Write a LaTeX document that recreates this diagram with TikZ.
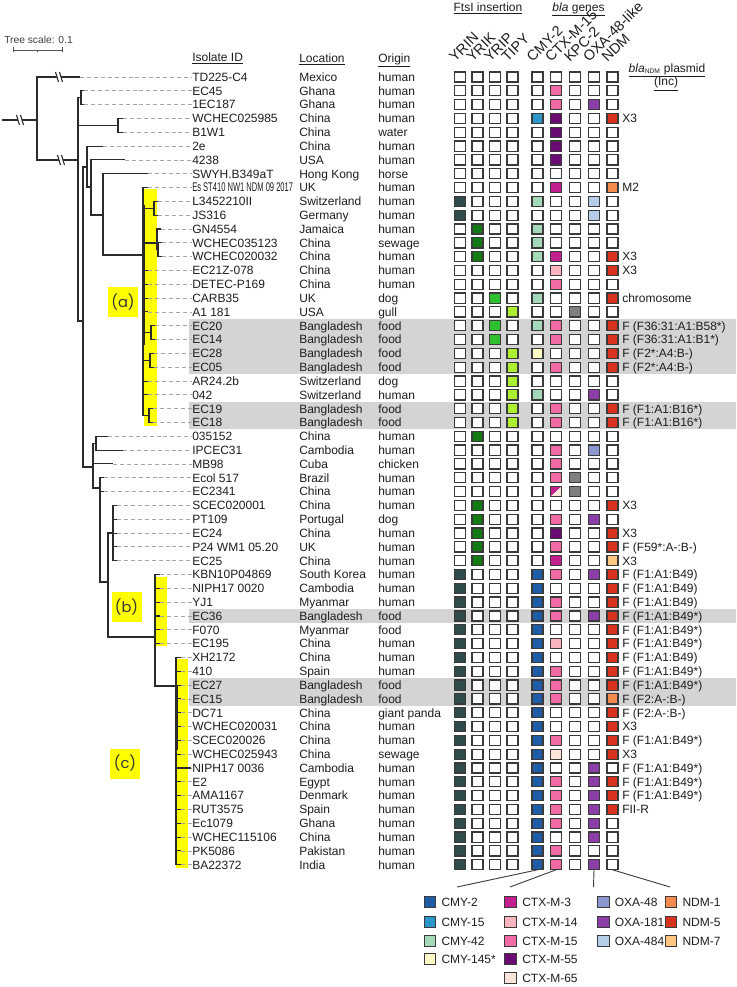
\documentclass[tikz,border=0pt]{standalone}
\usepackage{fontspec}
\setmainfont{Liberation Sans}
\newfontfamily\cladefont{Poppins}
\usepackage{graphicx}
\usetikzlibrary{calc}

\definecolor{ink}{HTML}{1E1E1E}
\definecolor{treeline}{HTML}{2B2B2B}
\definecolor{cellline}{HTML}{3A3A3A}
\definecolor{band}{HTML}{D4D4D4}
\definecolor{cladeyellow}{HTML}{FFFF00}
\definecolor{yrin}{HTML}{2F4B4B}
\definecolor{yrik}{HTML}{127A12}
\definecolor{yrip}{HTML}{2EC02E}
\definecolor{tipy}{HTML}{ADF031}
\definecolor{cmyA}{HTML}{1F5CA8}
\definecolor{cmyB}{HTML}{2C96C8}
\definecolor{cmyC}{HTML}{A5DAB9}
\definecolor{cmyD}{HTML}{FFFBC6}
\definecolor{ctxA}{HTML}{C2208E}
\definecolor{ctxB}{HTML}{F8B5BE}
\definecolor{ctxC}{HTML}{F06AA6}
\definecolor{ctxD}{HTML}{6B0A72}
\definecolor{ctxE}{HTML}{FBE4DA}
\definecolor{kpc}{HTML}{7F7F7F}
\definecolor{oxaA}{HTML}{8C97CF}
\definecolor{oxaB}{HTML}{8A3EA6}
\definecolor{oxaC}{HTML}{B5CDE8}
\definecolor{ndmA}{HTML}{F58A4E}
\definecolor{ndmB}{HTML}{D8331F}
\definecolor{ndmC}{HTML}{FCC580}

\newcommand{\rowy}[1]{77+(#1-1)*13.82}
\newcommand{\treebreak}[2]{%
  \fill[white] (#1-3.5,#2-5) -- (#1+0.5,#2-5) -- (#1+3.5,#2+5) -- (#1-0.5,#2+5) -- cycle;
  \draw[br] (#1-3.5,#2-5) -- (#1-0.5,#2+5) (#1+0.5,#2-5) -- (#1+3.5,#2+5);}

\begin{document}
\begin{tikzpicture}[x=0.75pt,y=-0.75pt,
  txt/.style={font=\fontsize{9}{10}\selectfont, text=ink, inner sep=0pt, anchor=west, text height=6.5pt, text depth=0pt},
  head/.style={txt, anchor=center},
  coltxt/.style={font=\fontsize{10.8}{12}\selectfont, text=ink, inner sep=0pt, rotate=45, anchor=base west},
  cell/.style={draw=cellline, line width=0.9pt, minimum width=8.3pt, minimum height=7.6pt, inner sep=0pt, outer sep=0pt},
  legbox/.style={draw=cellline, line width=0.9pt, minimum width=8.8pt, minimum height=8.2pt, inner sep=0pt, outer sep=0pt},
  br/.style={draw=treeline, line width=0.8pt},
  lead/.style={draw=black!35, line width=0.6pt, dash pattern=on 3pt off 2.2pt},
  cladebox/.style={fill=cladeyellow, minimum size=22.5pt, inner sep=0pt, font=\cladefont\fontsize{11}{12}\selectfont, text=ink!90}]
\useasboundingbox (0,0) rectangle (736,987);
\fill[white] (0,0) rectangle (736,987);

% tree scale
\node[font=\fontsize{7.7}{8}\selectfont, text=ink!85, inner sep=0pt, anchor=west] (tscale) at (4,40) {Tree scale: 0.1};
\draw[treeline!80, line width=0.6pt] (13,50) -- (62,50) (13,47.5) -- (13,52.5) (62,47.5) -- (62,52.5) (37.5,50) -- (37.5,52);

% highlighted Bangladesh rows
\foreach \a/\b in {19/22, 25/26, 40/40, 45/46}
  \fill[band] (189,{\rowy{\a}-6.9}) rectangle (736,{\rowy{\b}+6.9});

\fill[cladeyellow] (144,189) rectangle (157,426);
\fill[cladeyellow] (155,577) rectangle (167,646);
\fill[cladeyellow] (176,659) rectangle (188,868);
\node[cladebox] (cla) at (123,302) {(a)};
\node[cladebox] (clb) at (126.5,607) {(b)};
\node[cladebox] (clc) at (125,763.5) {(c)};

% headers
\node[txt] (hid) at (192,57) {\underline{Isolate ID}};
\node[txt] (hloc) at (299,58) {\underline{Location}};
\node[txt] (horg) at (378,58) {\underline{Origin}};
\node[head] (hfts) at (488,7) {\underline{FtsI insertion}};
\node[head] (hbla) at (578.5,7) {\underline{\textit{bla} genes}};
\node[head] (hpl) at (667,68) {\underline{\textit{bla}\textsubscript{\fontsize{5}{5}\selectfont NDM} plasmid}};
\node[head] (hinc) at (666,81.5) {\underline{(Inc)}};
\foreach \k/\x/\lab in {1/460/YRIN, 2/477.5/YRIK, 3/495/YRIP, 4/512.5/TIPY, 5/537.5/CMY-2,
    6/556/CTX-M-15, 7/575/KPC-2, 8/594/OXA-48-like, 9/612.5/NDM}
  \node[coltxt] (h\k) at (\x-5,63) {\lab};

% isolates
\foreach \r/\id/\loc/\org in {1/TD225-C4/Mexico/human, 2/EC45/Ghana/human, 3/1EC187/Ghana/human,
    4/WCHEC025985/China/human, 5/B1W1/China/water, 6/2e/China/human, 7/4238/USA/human,
    8/SWYH.B349aT/Hong Kong/horse, 9/\scalebox{0.63}[1.05]{Es ST410 NW1 NDM 09 2017}/UK/human,
    10/L3452210II/Switzerland/human, 11/JS316/Germany/human, 12/GN4554/Jamaica/human,
    13/WCHEC035123/China/sewage, 14/WCHEC020032/China/human, 15/EC21Z-078/China/human,
    16/DETEC-P169/China/human, 17/CARB35/UK/dog, 18/A1 181/USA/gull, 19/EC20/Bangladesh/food,
    20/EC14/Bangladesh/food, 21/EC28/Bangladesh/food, 22/EC05/Bangladesh/food,
    23/AR24.2b/Switzerland/dog, 24/042/Switzerland/human, 25/EC19/Bangladesh/food,
    26/EC18/Bangladesh/food, 27/035152/China/human, 28/IPCEC31/Cambodia/human,
    29/MB98/Cuba/chicken, 30/Ecol 517/Brazil/human, 31/EC2341/China/human,
    32/SCEC020001/China/human, 33/PT109/Portugal/dog, 34/EC24/China/human,
    35/P24 WM1 05.20/UK/human, 36/EC25/China/human, 37/KBN10P04869/South Korea/human,
    38/NIPH17 0020/Cambodia/human, 39/YJ1/Myanmar/human, 40/EC36/Bangladesh/food,
    41/F070/Myanmar/food, 42/EC195/China/human, 43/XH2172/China/human, 44/410/Spain/human,
    45/EC27/Bangladesh/food, 46/EC15/Bangladesh/food, 47/DC71/China/giant panda,
    48/WCHEC020031/China/human, 49/SCEC020026/China/human, 50/WCHEC025943/China/sewage,
    51/NIPH17 0036/Cambodia/human, 52/E2/Egypt/human, 53/AMA1167/Denmark/human,
    54/RUT3575/Spain/human, 55/Ec1079/Ghana/human, 56/WCHEC115106/China/human,
    57/PK5086/Pakistan/human, 58/BA22372/India/human}{
  \node[txt] (id\r) at (192,{\rowy{\r}}) {\id};
  \node[txt] (loc\r) at (299,{\rowy{\r}}) {\loc};
  \node[txt] (org\r) at (378,{\rowy{\r}}) {\org};
}

% tree
\foreach \r/\xe in {1/80, 2/84, 3/84, 4/123, 5/123, 6/103, 7/125, 8/148, 9/148, 10/158, 11/158,
    12/161, 13/162, 14/162, 15/148, 16/148, 17/148, 18/148, 19/155, 20/155, 21/154, 22/154,
    23/148, 24/148, 25/153, 26/153, 27/108, 28/123, 29/113, 30/104, 31/104, 32/117, 33/117,
    34/117, 35/117, 36/117, 37/160, 38/160, 39/160, 40/160, 41/160, 42/160, 43/181, 44/181,
    45/181, 46/181, 47/181, 48/181, 49/181, 50/181, 51/191, 52/181, 53/181, 54/181, 55/181,
    56/181, 57/181, 58/181}
  \coordinate (e\r) at (\xe,{\rowy{\r}});
\foreach \r in {1,...,58}
  \draw[lead] (e\r) -- (id\r.west);

\coordinate (nS) at (2,120);
\coordinate (nR) at (37,120);
\coordinate (nA) at (78,160);
\coordinate (nB) at (81,97.7);
\coordinate (nP) at (118,125.4);
\coordinate (nF) at (83,321);
\coordinate (nE) at (87,167);
\coordinate (nD) at (91,187);
\coordinate (nC) at (103,215);
\coordinate (nCa) at (143,255);
\coordinate (nS1) at (154,208.3);
\coordinate (nS2) at (157,243);
\coordinate (nS3) at (158,249.8);
\coordinate (nS4) at (151,332.7);
\coordinate (nS5) at (150,360.3);
\coordinate (nS6) at (149,415.6);
\coordinate (nG) at (93,467);
\coordinate (nH) at (96,443.2);
\coordinate (nI) at (100,488);
\coordinate (nJ) at (108,582);
\coordinate (nL) at (113,533);
\coordinate (nK) at (155,637);
\coordinate (nCc) at (176,686);

\draw[br] (nS) -- (nR);
\foreach \p/\c in {nR/e1, nR/nA, nA/nB, nA/nP, nA/nF, nB/e2, nB/e3, nP/e4, nP/e5, nF/nE, nF/nG,
    nE/e6, nE/nD, nD/e7, nD/nC, nC/e8, nC/nCa, nCa/e9, nCa/nS1, nCa/nS2, nCa/e15, nCa/e16,
    nCa/e17, nCa/e18, nCa/nS4, nCa/nS5, nCa/e23, nCa/e24, nCa/nS6, nS1/e10, nS1/e11, nS2/e12,
    nS2/nS3, nS3/e13, nS3/e14, nS4/e19, nS4/e20, nS5/e21, nS5/e22, nS6/e25, nS6/e26, nG/nH,
    nG/e29, nG/nI, nH/e27, nH/e28, nI/e30, nI/e31, nI/nJ, nJ/nL, nJ/nK, nK/nCc}
  \draw[br] (\p) |- (\c);
\foreach \r in {32,...,36} \draw[br] (nL) |- (e\r);
\foreach \r in {37,...,42} \draw[br] (nK) |- (e\r);
\foreach \r in {43,...,58} \draw[br] (nCc) |- (e\r);
\draw[br, line width=1.2pt] (144.5,205) -- (144.5,345);
\draw[br, line width=1.2pt] (177.5,686) -- (177.5,750);
\treebreak{20}{120}
\treebreak{59}{77}
\treebreak{61}{160}

% genes
\foreach \r/\k/\cc in {2/6/ctxC, 3/6/ctxC, 3/8/oxaB, 4/5/cmyB, 4/6/ctxD, 4/9/ndmB, 5/6/ctxD,
    6/6/ctxD, 7/6/ctxD, 9/6/ctxA, 9/9/ndmA, 10/1/yrin, 10/5/cmyC, 10/8/oxaC, 11/1/yrin, 11/8/oxaC,
    12/2/yrik, 12/5/cmyC, 13/2/yrik, 13/5/cmyC, 14/2/yrik, 14/5/cmyC, 14/6/ctxA, 14/9/ndmB,
    15/6/ctxB, 15/9/ndmB, 16/6/ctxC, 17/3/yrip, 17/5/cmyC, 17/9/ndmB, 18/4/tipy, 18/7/kpc,
    19/3/yrip, 19/5/cmyC, 19/6/ctxC, 19/9/ndmB, 20/3/yrip, 20/6/ctxC, 20/9/ndmB,
    21/4/tipy, 21/5/cmyD, 21/9/ndmB, 22/4/tipy, 22/6/ctxC, 22/9/ndmB, 23/4/tipy,
    24/4/tipy, 24/5/cmyC, 24/8/oxaB, 25/4/tipy, 25/6/ctxC, 25/9/ndmB, 26/4/tipy, 26/6/ctxC,
    26/9/ndmB, 27/2/yrik, 28/6/ctxC, 28/8/oxaA, 29/6/ctxC, 30/6/ctxC, 30/7/kpc, 31/7/kpc,
    32/2/yrik, 32/9/ndmB, 33/2/yrik, 33/6/ctxC, 33/8/oxaB, 34/2/yrik, 34/6/ctxD, 34/9/ndmB,
    35/2/yrik, 35/6/ctxC, 35/9/ndmB, 36/2/yrik, 36/6/ctxA, 36/9/ndmC,
    37/6/ctxC, 37/8/oxaB, 37/9/ndmB, 38/9/ndmB, 39/6/ctxC, 39/9/ndmB, 40/6/ctxC, 40/8/oxaB,
    40/9/ndmB, 41/9/ndmB, 42/6/ctxB, 42/9/ndmB, 43/9/ndmB, 44/6/ctxC, 44/9/ndmB, 45/6/ctxC,
    45/9/ndmB, 46/6/ctxC, 46/9/ndmA, 47/9/ndmB, 48/9/ndmB, 49/6/ctxC, 49/9/ndmB, 50/6/ctxE,
    50/9/ndmB, 51/8/oxaB, 52/6/ctxC, 52/8/oxaB, 52/9/ndmB, 53/6/ctxC, 53/8/oxaB, 53/9/ndmB,
    54/6/ctxC, 54/8/oxaB, 54/9/ndmB, 55/6/ctxC, 55/8/oxaB, 56/8/oxaB, 57/6/ctxC, 58/6/ctxC,
    58/8/oxaB}
  {\expandafter\xdef\csname cf-\r-\k\endcsname{\cc}}
\foreach \r in {37,...,58}
  {\expandafter\xdef\csname cf-\r-1\endcsname{yrin}\expandafter\xdef\csname cf-\r-5\endcsname{cmyA}}
\foreach \r in {1,...,58}
  \foreach \k/\x in {1/460, 2/477.5, 3/495, 4/512.5, 5/537.5, 6/556, 7/575, 8/594, 9/612.5}{
    \ifcsname cf-\r-\k\endcsname \edef\cfill{\csname cf-\r-\k\endcsname}\else\def\cfill{white}\fi
    \node[cell, fill=\cfill] (c-\r-\k) at (\x,{\rowy{\r}}) {};
  }
\fill[ctxA] (c-31-6.south west) -- (c-31-6.north west) -- (c-31-6.north east) -- cycle;
\fill[ctxE] (c-31-6.south west) -- (c-31-6.south east) -- (c-31-6.north east) -- cycle;
\draw[cellline, line width=0.9pt] (c-31-6.south west) rectangle (c-31-6.north east);

% plasmids
\foreach \r/\pl in {4/X3, 9/M2, 14/X3, 15/X3, 17/chromosome, 19/F (F36:31:A1:B58*),
    20/F (F36:31:A1:B1*), 21/F (F2*:A4:B-), 22/F (F2*:A4:B-), 25/F (F1:A1:B16*),
    26/F (F1:A1:B16*), 32/X3, 34/X3, 35/F (F59*:A-:B-), 36/X3, 37/F (F1:A1:B49),
    38/F (F1:A1:B49), 39/F (F1:A1:B49), 40/F (F1:A1:B49*), 41/F (F1:A1:B49*),
    42/F (F1:A1:B49*), 43/F (F1:A1:B49), 44/F (F1:A1:B49*), 45/F (F1:A1:B49*),
    46/F (F2:A-:B-), 47/F (F2:A-:B-), 48/X3, 49/F (F1:A1:B49*), 50/X3, 51/F (F1:A1:B49*),
    52/F (F1:A1:B49*), 53/F (F1:A1:B49*), 54/FII-R}
  \node[txt] (pl\r) at (622,{\rowy{\r}}) {\pl};

% legend
\coordinate (lg1) at (457,887);
\coordinate (lg2) at (510,887);
\coordinate (lg3) at (593.5,887);
\coordinate (lg4) at (670,887);
\draw[treeline!90, line width=0.7pt] (c-58-5.south) -- (lg1) (c-58-6.south) -- (lg2)
  (c-58-8.south) -- (lg3) (c-58-9.south) -- (lg4);
\foreach \n/\x/\y/\cc/\lab in {1/430/902.3/cmyA/CMY-2, 2/430/921.7/cmyB/CMY-15,
    3/430/940.7/cmyC/CMY-42, 4/430/959.3/cmyD/CMY-145*, 5/510.7/902.3/ctxA/CTX-M-3,
    6/510.7/921.7/ctxB/CTX-M-14, 7/510.7/940.7/ctxC/CTX-M-15, 8/510.7/959.3/ctxD/CTX-M-55,
    9/510.7/978.3/ctxE/CTX-M-65, 10/603.3/902.3/oxaA/OXA-48, 11/603.3/921.7/oxaB/OXA-181,
    12/603.3/940.7/oxaC/OXA-484, 13/671/902.3/ndmA/NDM-1, 14/671/921.7/ndmB/NDM-5,
    15/671/940.7/ndmC/NDM-7}{
  \node[legbox, fill=\cc] (lb\n) at (\x,\y) {};
  \node[txt] (lt\n) at (\x+11.3,\y) {\lab};
}
\end{tikzpicture}
\end{document}
